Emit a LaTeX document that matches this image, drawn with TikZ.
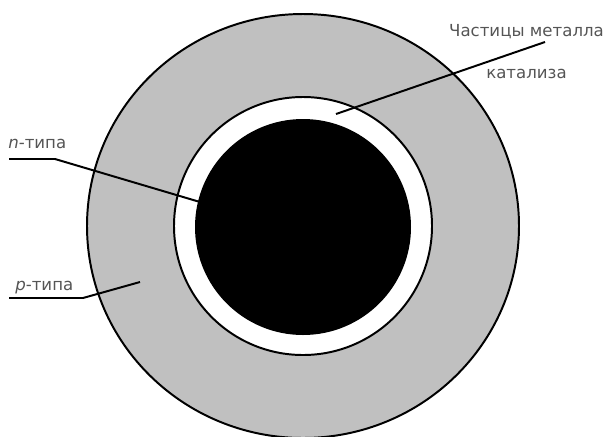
\documentclass[tikz,border=0pt]{standalone}
\usepackage{fontspec}
\setmainfont{DejaVu Sans}
\usepackage{tikz}

\definecolor{shellgray}{RGB}{192,192,192}
\definecolor{labelgray}{RGB}{85,85,85}

\begin{document}
\begin{tikzpicture}[x=0.025cm,y=-0.025cm,
	leader/.style={line width=1.4pt},
	label text/.style={text=labelgray,inner sep=0pt,font=\fontsize{11.8}{29.8}\selectfont}]

%grid help
% \draw[gray, very thin] (0,0) grid[step=50] (605,436);

\useasboundingbox (0,0) rectangle (605,436);

%Outer shell (p-type)
\filldraw[fill=shellgray,line width=1.4pt] (303,226) ellipse (216 and 212);

%Gap with metal particles
\filldraw[fill=white,line width=1.4pt] (303,226) circle (129);

%Core (n-type)
\fill[black] (303,227) circle (108);

%Labels
\node[label text,align=center] (metal) at (526.5,52) {Частицы металла\\катализа};
\node[label text,anchor=base west] (ntype) at (8,148) {{\itshape n}-типа};
\node[label text,anchor=base west] (ptype) at (15,290) {{\itshape p}-типа};

%Leader ends
\coordinate (m1) at (545,42);
\coordinate (m2) at (336,114);
\coordinate (n1) at (9,159);
\coordinate (n2) at (55,159);
\coordinate (n3) at (200,202);
\coordinate (p1) at (9,298);
\coordinate (p2) at (83,298);
\coordinate (p3) at (140,282);

%Leader lines
\draw[leader] (m1) -- (m2);
\draw[leader] (n1) -- (n2) -- (n3);
\draw[leader] (p1) -- (p2) -- (p3);

\end{tikzpicture}
\end{document}
